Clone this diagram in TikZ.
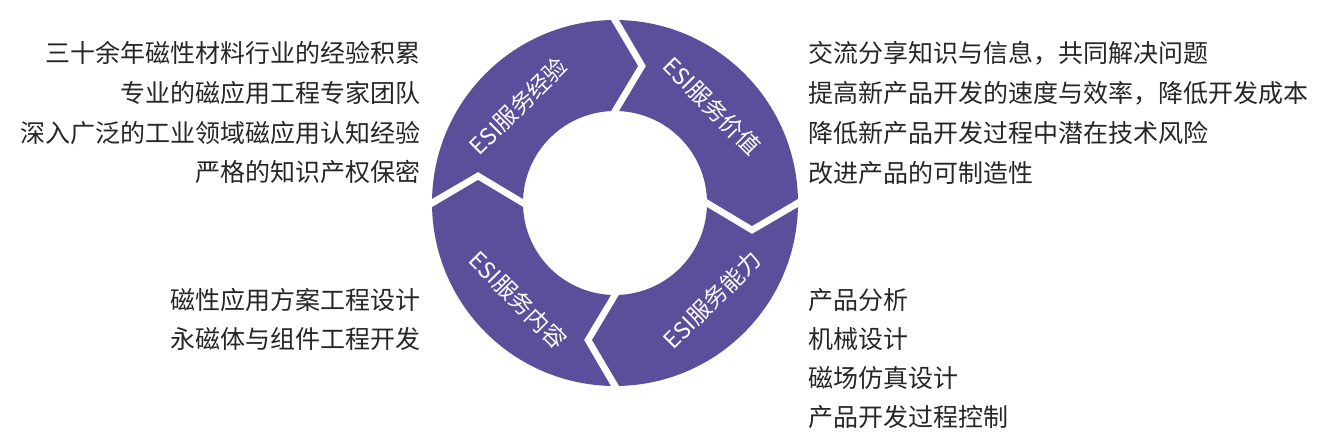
\documentclass[tikz,border=0pt]{standalone}
\usepackage{fontspec}
\usepackage{tikz}
\usetikzlibrary{calc}
\setmainfont{Noto Sans CJK SC}
\definecolor{ringpurple}{HTML}{5B4F9C}
\newcommand{\Rout}{183}
\newcommand{\Rin}{92}
\newcommand{\Rmid}{137}
% one ring piece, from angle #1 clockwise to angle #2
\newcommand{\ringpiece}[2]{%
\fill [ringpurple] ($(c)+(#1-1.3:\Rout)$)
  arc[start angle=#1-1.3, end angle=#2+1.3, radius=\Rout]
  -- ($(c)+(#2:\Rmid)+(#2-90:23)$)
  -- ($(c)+(#2+2.5:\Rin)$)
  arc[start angle=#2+2.5, end angle=#1-2.5, radius=\Rin]
  -- ($(c)+(#1:\Rmid)+(#1-90:31)$) -- cycle;}

\begin{document}
\begin{tikzpicture}[x=1pt,y=1pt]
\tikzstyle{itemtext}=[inner sep=0pt, text=black!85, font=\fontsize{25}{29}\selectfont]
\tikzstyle{ringtext}=[inner sep=0pt, text=white, font=\fontsize{23}{27}\selectfont]
\useasboundingbox (0,0) rectangle (1321,445);
\coordinate (c) at (615,242);
\ringpiece{180}{90}
\ringpiece{90}{0}
\ringpiece{360}{270}
\ringpiece{270}{180}
\node [ringtext, rotate=45] (exp) at ($(c)+(135:\Rmid)$) {ESI服务经验};
\node [ringtext, rotate=-45] (val) at ($(c)+(45:\Rmid)$) {ESI服务价值};
\node [ringtext, rotate=45] (abl) at ($(c)+(-45:\Rmid)$) {ESI服务能力};
\node [ringtext, rotate=-45] (cnt) at ($(c)+(-135:\Rmid)$) {ESI服务内容};
% left side
\node [itemtext, anchor=east] (l1) at (421,392) {三十余年磁性材料行业的经验积累};
\node [itemtext, anchor=east] (l2) at (421,352) {专业的磁应用工程专家团队};
\node [itemtext, anchor=east] (l3) at (421,312) {深入广泛的工业领域磁应用认知经验};
\node [itemtext, anchor=east] (l4) at (421,273) {严格的知识产权保密};
\node [itemtext, anchor=east] (l5) at (421,145) {磁性应用方案工程设计};
\node [itemtext, anchor=east] (l6) at (421,106) {永磁体与组件工程开发};
% right side
\node [itemtext, anchor=west] (r1) at (808,392) {交流分享知识与信息，共同解决问题};
\node [itemtext, anchor=west] (r2) at (808,352) {提高新产品开发的速度与效率，降低开发成本};
\node [itemtext, anchor=west] (r3) at (808,312) {降低新产品开发过程中潜在技术风险};
\node [itemtext, anchor=west] (r4) at (808,272) {改进产品的可制造性};
\node [itemtext, anchor=west] (r5) at (808,145) {产品分析};
\node [itemtext, anchor=west] (r6) at (808,106) {机械设计};
\node [itemtext, anchor=west] (r7) at (808,67) {磁场仿真设计};
\node [itemtext, anchor=west] (r8) at (808,28) {产品开发过程控制};
\end{tikzpicture}
\end{document}
